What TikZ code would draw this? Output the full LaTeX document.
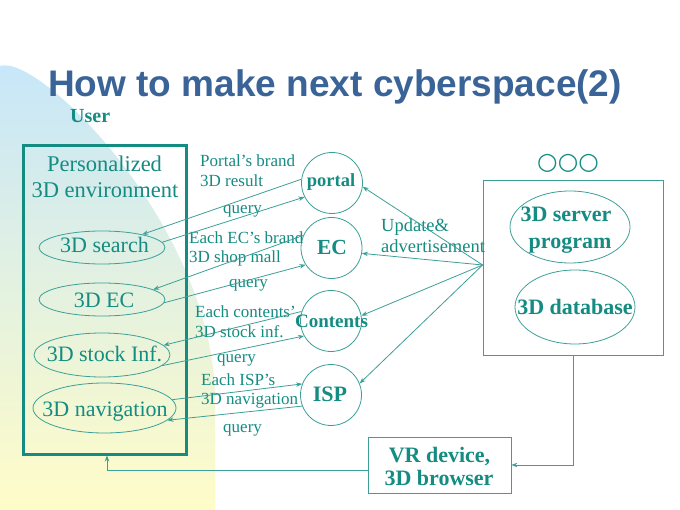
\documentclass[tikz,border=0pt]{standalone}
\usepackage{graphicx}
\usepackage{fontspec}
\setmainfont{Liberation Serif}
\newfontfamily\titlefont{Liberation Sans}
\newfontfamily\symfont{DejaVu Sans}
\usetikzlibrary{shapes.geometric,arrows.meta,calc}
\definecolor{tealtxt}{RGB}{20,140,130}
\definecolor{tealln}{RGB}{60,160,152}
\definecolor{titleblue}{RGB}{58,100,152}
\definecolor{bgblue}{RGB}{198,230,250}
\definecolor{bgyellow}{RGB}{255,252,200}
\begin{document}
\begin{tikzpicture}[x=1pt,y=-1pt,
  lbl/.style={anchor=base west,inner sep=0pt,text=tealtxt,font=\fontsize{17}{17}\selectfont},
  reg/.style={anchor=base,inner sep=0pt,text=tealtxt,font=\fontsize{22}{22}\selectfont},
  bld/.style={anchor=base,inner sep=0pt,text=tealtxt,font=\bfseries\fontsize{#1}{#1}\selectfont},
  bld/.default=22,
  lell/.style={ellipse,draw=tealln,line width=0.8pt,inner sep=0pt},
  hub/.style={circle,draw=tealln,line width=0.8pt,minimum size=61pt,inner sep=0pt},
  frame/.style={draw=tealln,line width=0.8pt,inner sep=0pt},
  conn/.style={draw=tealln,line width=0.8pt,-{Stealth[length=6pt,width=4.5pt]}},
]
\useasboundingbox (0,0) rectangle (680,510);
\fill[white] (0,0) rectangle (680,510);
\shade[top color=bgblue,bottom color=bgyellow]
  (0,66) .. controls (40,53) and (215,230) .. (215,400) -- (215,510) -- (0,510) -- cycle;

% title
\node[anchor=base west,inner sep=0pt,text=titleblue,font=\titlefont\bfseries\fontsize{37}{37}\selectfont] (title) at (48,97) {How to make next cyberspace(2)};

% user box
\node[bld=20,anchor=base west] (userlbl) at (70,123) {User};
\node[draw=tealtxt,line width=3pt,minimum width=163pt,minimum height=308pt,inner sep=0pt] (user) at (104.5,300) {};
\node[reg,font=\fontsize{22.5}{22.5}\selectfont] (pers1) at (104.5,172) {Personalized};
\node[reg,font=\fontsize{22.5}{22.5}\selectfont] (pers2) at (105,198) {3D environment};

\node[lell,minimum width=126pt,minimum height=33pt] (search) at (102,247.5) {};
\node[reg] (searcht) at (104.5,253) {3D search};
\node[lell,minimum width=126pt,minimum height=33pt] (ec3d) at (102,299.5) {};
\node[reg] (ec3dt) at (104,308) {3D EC};
\node[lell,minimum width=136pt,minimum height=44pt] (stock) at (102,355) {};
\node[reg] (stockt) at (104.5,362) {3D stock Inf.};
\node[lell,minimum width=143pt,minimum height=50pt] (nav) at (104.5,408) {};
\node[reg] (navt) at (105,417) {3D navigation};

% hubs
\node[hub] (portal) at (332,183) {};
\node[bld=18.5] (portalt) at (331,187) {portal};
\node[hub] (ecc) at (331.5,248) {};
\node[bld=21.5] (ecct) at (332,255) {EC};
\node[hub] (cont) at (331,321) {};
\node[bld=19] (contt) at (331.5,328) {Contents};
\node[hub] (isp) at (331,395) {};
\node[bld=22] (ispt) at (330,402) {ISP};

% labels
\node[lbl] (l1a) at (200,167) {Portal’s brand};
\node[lbl] (l1b) at (200,187) {3D result};
\node[lbl] (q1) at (223,214) {query};
\node[lbl] (l2a) at (189,244) {Each EC’s brand};
\node[lbl] (l2b) at (189,263) {3D shop mall};
\node[lbl] (q2) at (229,288) {query};
\node[lbl] (l3a) at (195,318) {Each contents’};
\node[lbl] (l3b) at (195,338) {3D stock inf.};
\node[lbl] (q3) at (217,363) {query};
\node[lbl] (l4a) at (201,386) {Each ISP’s};
\node[lbl] (l4b) at (201,405) {3D navigation};
\node[lbl] (q4) at (223,432) {query};

% server box
\node[inner sep=0pt,text=tealtxt,font=\symfont\fontsize{23.5}{23.5}\selectfont] (dots) at (568,163) {○○○};
\node[frame,minimum width=180pt,minimum height=175pt] (srv) at (573,267.5) {};
\node[lell,minimum width=120pt,minimum height=72pt] (prog) at (570,227) {};
\node[bld] (prog1) at (566,222) {3D server};
\node[bld] (prog2) at (570,249) {program};
\node[lell,minimum width=120pt,minimum height=74pt] (db) at (575,307) {};
\node[bld] (dbt) at (575,315) {3D database};
\node[lbl,font=\fontsize{18.5}{18.5}\selectfont] (upd1) at (381,232) {Update\&};
\node[lbl,font=\fontsize{18.5}{18.5}\selectfont] (upd2) at (381,253) {advertisement};

% VR box
\node[frame,minimum width=143pt,minimum height=56pt] (vr) at (439.5,465) {};
\node[bld] (vr1) at (439.5,462) {VR device,};
\node[bld] (vr2) at (439,485) {3D browser};

% connectors left
\draw[conn] (portal.173) -- (search.18);
\draw[conn] (search.5) -- (portal.207);
\draw[conn] (ecc.156) -- (ec3d.11);
\draw[conn] (ec3d.-3) -- (ecc.213);
\draw[conn] (cont.162) -- (stock.9);
\draw[conn] (stock.-10) -- (cont.209);
\draw[conn] (nav.7) -- (isp.159);
\draw[conn] (isp.201) -- (nav.-11);

% connectors right
\draw[conn] ([yshift=2.5pt]srv.west) -- (portal.-7);
\draw[conn] ([yshift=2.5pt]srv.west) -- (ecc.-10);
\draw[conn] ([yshift=2.5pt]srv.west) -- (cont.10);
\draw[conn] ([yshift=2.5pt]srv.west) -- (isp.22);

% bottom
\draw[conn] (srv.south) |- (vr.east);
\draw[conn] ([yshift=-5pt]vr.west) -| ([xshift=2.5pt]user.south);
\end{tikzpicture}
\end{document}
